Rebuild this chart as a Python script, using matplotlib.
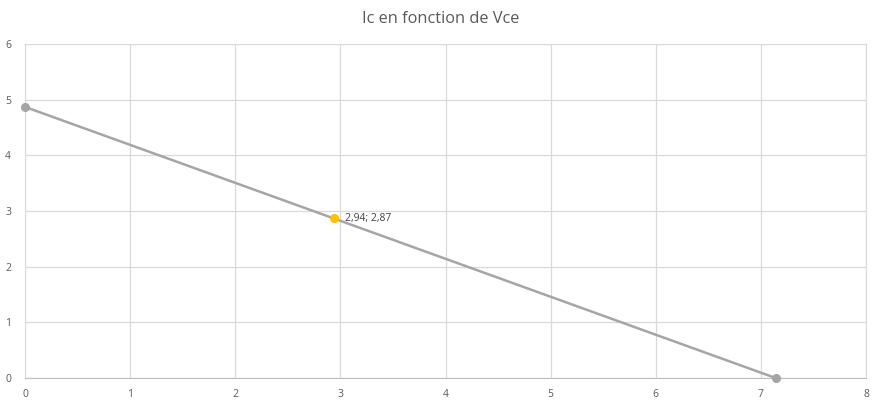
import matplotlib
matplotlib.use("Agg")
import matplotlib.pyplot as plt

plt.rcParams['font.family'] = ['Open Sans', 'DejaVu Sans']

# load line end points
vce = [0, 7.14]
ic = [4.87, 0]
# operating point
q_vce = [2.94]
q_ic = [2.87]
q_label = "2,94; 2,87"

fig = plt.figure(figsize=(8.82, 4.08), dpi=100)
ax = fig.add_axes([25/882, 30/408, 841/882, 334/408])

ax.plot(vce, ic, color='#a5a5a5', lw=1.8, marker='o', ms=5.5, zorder=3, clip_on=False)
ax.plot(q_vce, q_ic, color='#ffc000', marker='o', ms=5.5, ls='none', zorder=4)
ax.annotate(q_label, (q_vce[0], q_ic[0]), xytext=(8, 0), textcoords='offset points',
            va='center', ha='left', fontsize=7.5, color='#404040')

ax.set_xlim(0, 8)
ax.set_ylim(0, 6)
ax.set_xticks(range(0, 9))
ax.set_yticks(range(0, 7))
ax.grid(True, color='#d9d9d9', lw=0.9)
ax.set_axisbelow(True)
ax.tick_params(length=0, labelsize=7.5, colors='#595959', pad=8)
ax.tick_params(axis='y', pad=10)
for s in ax.spines.values():
    s.set_color('#d9d9d9')
ax.spines['bottom'].set_color('#bfbfbf')

fig.text(0.5, 1 - 19/408, "Ic en fonction de Vce", ha='center', va='center',
         fontsize=11.8, color='#595959')

fig.savefig("out.png", dpi=100)
